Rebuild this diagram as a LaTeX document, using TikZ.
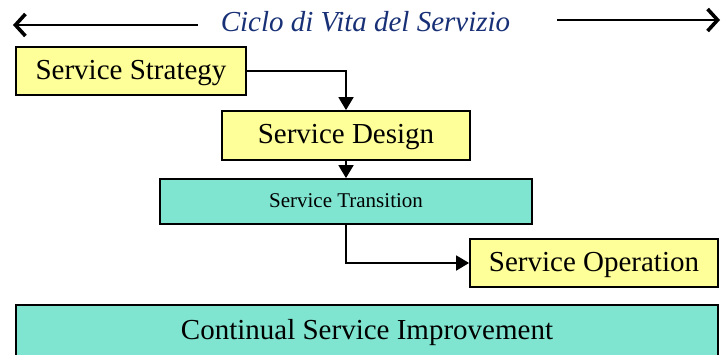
\documentclass[tikz,border=0pt]{standalone}
\usepackage{fontspec}
\setmainfont{Liberation Serif}
\usetikzlibrary{arrows.meta}
\definecolor{boxyellow}{RGB}{255,255,153}
\definecolor{boxteal}{RGB}{128,229,208}
\definecolor{titleblue}{RGB}{24,48,118}
\tikzset{
  box/.style={draw=black, line width=1.8pt, inner sep=0pt, font=\fontsize{29}{33}\selectfont, text height=22.8pt, text depth=6.3pt},
  ybox/.style={box, fill=boxyellow},
  tbox/.style={box, fill=boxteal},
  flow/.style={line width=1.8pt, -{Triangle[length=13pt,width=15pt]}},
  lifearrow/.style={line width=1.8pt, -{Straight Barb[length=10pt,width=22pt,line width=3.6pt]}}
}
\begin{document}
\begin{tikzpicture}[x=1pt,y=-1pt]
\useasboundingbox (0,0) rectangle (723,354);
% title
\node[anchor=base, text=titleblue, font=\fontsize{29}{33}\selectfont\itshape, inner sep=0pt] (title) at (365.5,31.5) {Ciclo di Vita del Servizio};
\coordinate (lA) at (198,25);
\coordinate (lB) at (13,25);
\coordinate (rA) at (557,20);
\coordinate (rB) at (720,20);
\draw[lifearrow] (lA) -- (lB);
\draw[lifearrow] (rA) -- (rB);
% boxes
\node[ybox, minimum width=230pt, minimum height=48pt] (strategy) at (131,71) {Service Strategy};
\node[ybox, minimum width=248pt, minimum height=49pt] (design) at (346,135.5) {Service Design};
\node[tbox, minimum width=372pt, minimum height=45pt, font=\fontsize{21}{25}\selectfont, text height=15.5pt, text depth=4.5pt] (transition) at (346,201.5) {Service Transition};
\node[ybox, minimum width=248pt, minimum height=48pt] (operation) at (594,263) {Service Operation};
\node[tbox, minimum width=702pt, minimum height=60pt, text height=14.3pt, text depth=6.3pt] (csi) at (367,335) {Continual Service Improvement};
% connectors
\draw[flow] (strategy.east) -| (design.north);
\draw[flow] (design.south) -- (transition.north);
\draw[flow] (transition.south) |- (operation.west);
\end{tikzpicture}
\end{document}
